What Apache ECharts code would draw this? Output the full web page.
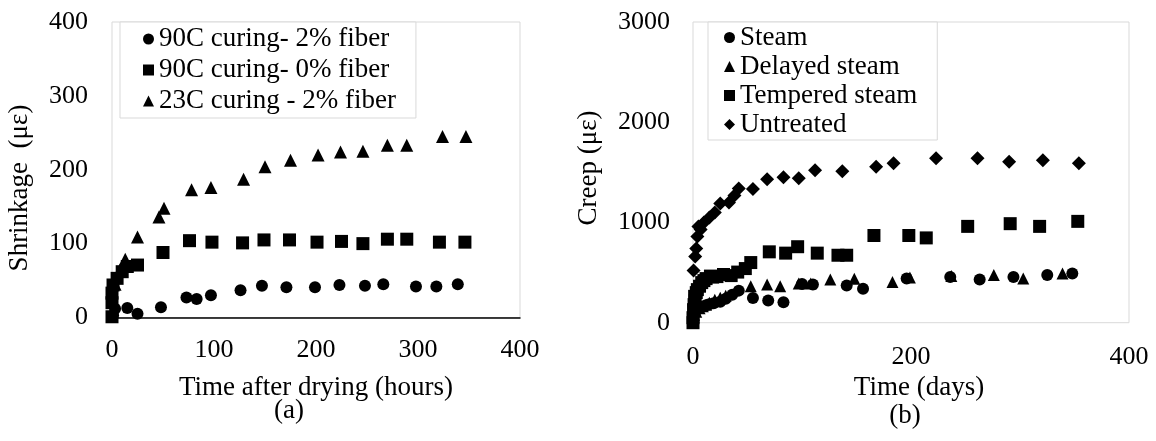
<!DOCTYPE html>
<html>
<head>
<meta charset="utf-8">
<script src="https://cdn.jsdelivr.net/npm/echarts@6/dist/echarts.min.js"></script>
<style>
  html, body { margin: 0; background: #fff; }
  #chart { width: 1156px; height: 441px; }
</style>
</head>
<body>
<div id="chart"></div>
<script>
// (a) shrinkage, x = hours after drying, y = microstrain
const shrinkNames = ['90C curing- 2% fiber', '90C curing- 0% fiber', '23C curing - 2% fiber'];
const fiber2Heat = [
  [1, 3], [3, 12], [15, 13], [25, 5], [48, 14], [73, 27], [83, 25], [97, 30], [126, 37],
  [147, 43], [171, 41], [199, 41], [223, 44], [248, 43], [266, 45], [298, 42], [318, 42], [339, 45]
];
const fiber0Heat = [
  [0, 1], [0, 20], [0, 33], [1, 44], [5, 53], [10, 62], [15, 69], [25, 71], [50, 88], [76, 104],
  [98, 102], [128, 101], [149, 105], [174, 105], [201, 102], [225, 103], [246, 100],
  [270, 106], [289, 106], [321, 102], [346, 102]
];
const fiber2Room = [
  [3, 45], [8, 65], [13, 79], [25, 109], [46, 136], [51, 148], [78, 173], [97, 176], [129, 187],
  [150, 204], [175, 213], [202, 220], [224, 224], [246, 225], [270, 233], [289, 233], [324, 245], [347, 245]
];

// (b) creep, x = days, y = microstrain
const creepNames = ['Steam', 'Delayed steam', 'Tempered steam', 'Untreated'];
const steam = [
  [0, 20], [1, 90], [2, 110], [3, 130], [5, 140], [8, 160], [12, 175], [15, 185], [19, 195],
  [25, 210], [30, 240], [36, 280], [42, 320], [55, 246], [69, 222], [83, 205], [100, 385],
  [110, 380], [141, 370], [156, 338], [196, 442], [236, 455], [263, 432], [294, 455], [325, 475], [348, 492]
];
const delayedSteam = [
  [0.5, 60], [1, 80], [3, 110], [6, 145], [9, 165], [12, 180], [15, 200], [20, 230], [25, 250],
  [30, 270], [53, 364], [68, 380], [80, 364], [97, 391], [108, 391], [126, 431], [148, 438],
  [183, 405], [199, 450], [237, 465], [276, 476], [303, 442], [339, 490]
];
const temperedSteam = [
  [0, 0], [0, 50], [0.5, 130], [1, 180], [1.5, 263], [2, 220], [3, 300], [4, 330], [6, 364],
  [8, 400], [10, 420], [12, 440], [16, 465], [18, 455], [22, 460], [28, 481], [35, 470], [41, 505],
  [48, 540], [53, 600], [70, 707], [85, 694], [96, 758], [114, 694], [133, 673], [141, 673],
  [166, 870], [198, 870], [214, 846], [252, 961], [291, 988], [318, 961], [353, 1011]
];
const untreated = [
  [0.5, 520], [2, 660], [3, 740], [4, 860], [5, 960], [7, 930], [10, 1000], [15, 1050], [20, 1100],
  [25, 1190], [33, 1200], [38, 1270], [42, 1340], [55, 1335], [68, 1430], [83, 1450], [97, 1440],
  [112, 1520], [137, 1510], [168, 1555], [184, 1590], [223, 1640], [261, 1640], [290, 1605],
  [321, 1620], [354, 1590]
];

const FONT = "'Liberation Serif', 'Times New Roman', serif";
const tick = { color: '#000', fontFamily: FONT, fontSize: 26 };
const txt = { color: '#000', fontFamily: FONT, fontSize: 27 };

function dots(name, data, symbol, size, idx) {
  return {
    name, type: 'scatter', data, symbol, symbolSize: size,
    xAxisIndex: idx, yAxisIndex: idx,
    itemStyle: { color: '#000', opacity: 1 },
    emphasis: { disabled: true },
  };
}

const chart = echarts.init(document.getElementById('chart'), null, { renderer: 'canvas' });

chart.setOption({
  animation: false,
  backgroundColor: '#fff',
  grid: [
    { left: 112, top: 22, width: 408, height: 295.5, show: true, borderColor: '#d9d9d9', borderWidth: 1, outerBoundsMode: 'none' },
    { left: 693, top: 22, width: 436, height: 300.7, show: true, borderColor: '#d9d9d9', borderWidth: 1, outerBoundsMode: 'none' },
  ],
  xAxis: [
    {
      gridIndex: 0, type: 'value', min: 0, max: 400, interval: 100,
      axisLine: { show: true, lineStyle: { color: '#000', width: 1.5 } },
      axisTick: { show: false }, splitLine: { show: false },
      axisLabel: { ...tick, margin: 20, formatter: (v) => String(v) },
      name: 'Time after drying (hours)', nameLocation: 'middle', nameGap: 57, nameTextStyle: txt,
    },
    {
      gridIndex: 1, type: 'value', min: 0, max: 400, interval: 200,
      axisLine: { show: false }, axisTick: { show: false }, splitLine: { show: false },
      axisLabel: { ...tick, margin: 21, formatter: (v) => String(v) },
      name: 'Time (days)', nameLocation: 'middle', nameGap: 51,
      nameTextStyle: { ...txt, padding: [0, 0, 0, 16] },
    },
  ],
  yAxis: [
    {
      gridIndex: 0, type: 'value', min: 0, max: 400, interval: 100,
      axisLine: { show: false }, axisTick: { show: false }, splitLine: { show: false },
      axisLabel: { ...tick, margin: 24, formatter: (v) => String(v) },
    },
    {
      gridIndex: 1, type: 'value', min: 0, max: 3000, interval: 1000,
      axisLine: { show: false }, axisTick: { show: false }, splitLine: { show: false },
      axisLabel: { ...tick, margin: 23, formatter: (v) => String(v) },
    },
  ],
  legend: [
    {
      data: [
        { name: shrinkNames[0], icon: 'circle' },
        { name: shrinkNames[1], icon: 'rect' },
        { name: shrinkNames[2], icon: 'triangle' },
      ],
      orient: 'vertical', left: 120, top: 22,
      padding: [3, 20, 3, 23], itemGap: 3, itemWidth: 11, itemHeight: 11,
      backgroundColor: '#fff', borderColor: '#d9d9d9', borderWidth: 1,
      textStyle: { ...txt, lineHeight: 28 },
      selectedMode: false,
    },
    {
      data: [
        { name: creepNames[0], icon: 'circle' },
        { name: creepNames[1], icon: 'triangle' },
        { name: creepNames[2], icon: 'rect' },
        { name: creepNames[3], icon: 'diamond' },
      ],
      orient: 'vertical', left: 708, top: 22,
      padding: [2, 20, 2, 16], itemGap: 2, itemWidth: 11, itemHeight: 11,
      backgroundColor: '#fff', borderColor: '#d9d9d9', borderWidth: 1,
      textStyle: { ...txt, lineHeight: 26.5 },
      selectedMode: false,
    },
  ],
  graphic: [
    { type: 'text', x: 20, y: 188, rotation: Math.PI / 2, style: { text: 'Shrinkage  (με)', font: `27px ${FONT}`, fill: '#000', align: 'center', verticalAlign: 'middle' } },
    { type: 'text', x: 589, y: 168, rotation: Math.PI / 2, style: { text: 'Creep (με)', font: `27px ${FONT}`, fill: '#000', align: 'center', verticalAlign: 'middle' } },
    { type: 'text', x: 289, y: 411, style: { text: '(a)', font: `27px ${FONT}`, fill: '#000', align: 'center', verticalAlign: 'middle' } },
    { type: 'text', x: 905, y: 416, style: { text: '(b)', font: `27px ${FONT}`, fill: '#000', align: 'center', verticalAlign: 'middle' } },
  ],
  series: [
    dots(shrinkNames[0], fiber2Heat, 'circle', 12, 0),
    dots(shrinkNames[1], fiber0Heat, 'rect', 13, 0),
    dots(shrinkNames[2], fiber2Room, 'triangle', 13, 0),
    dots(creepNames[0], steam, 'circle', 12, 1),
    dots(creepNames[1], delayedSteam, 'triangle', 12, 1),
    dots(creepNames[2], temperedSteam, 'rect', 13, 1),
    dots(creepNames[3], untreated, 'diamond', 14, 1),
  ],
});
</script>
</body>
</html>
